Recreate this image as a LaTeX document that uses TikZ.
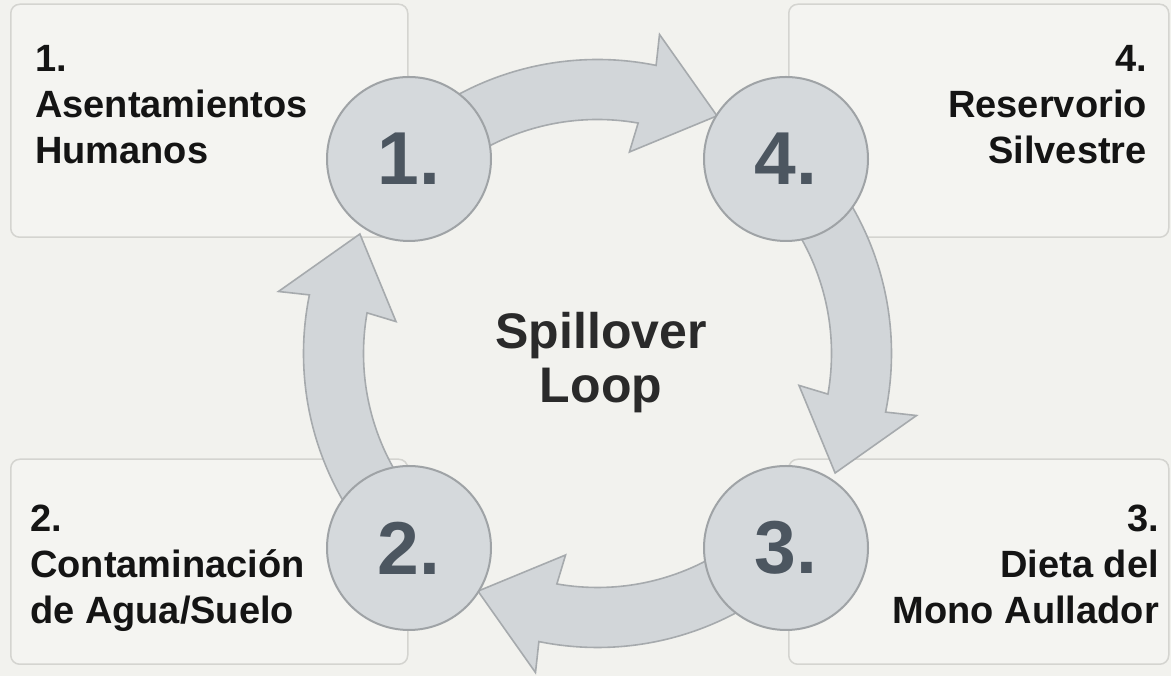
\documentclass[tikz,border=0pt]{standalone}
\usepackage{fontspec}
\setmainfont{Liberation Sans}
\definecolor{bg}{HTML}{F2F2EE}
\definecolor{boxfill}{HTML}{F4F4F1}
\definecolor{boxline}{HTML}{D4D4D0}
\definecolor{arrowfill}{HTML}{D2D6D9}
\definecolor{arrowline}{HTML}{A6AAAD}
\definecolor{circfill}{HTML}{D5D9DC}
\definecolor{circline}{HTML}{9FA3A6}
\definecolor{numcol}{HTML}{4C5660}
\definecolor{txt}{HTML}{141414}
\definecolor{loopcol}{HTML}{2A2A2A}
\begin{document}
\begin{tikzpicture}[x=1pt,y=1pt,
  box/.style={draw=boxline, line width=1.5pt, fill=boxfill, rounded corners=9pt, inner sep=0pt, anchor=south west},
  blockarrow/.style={fill=arrowfill, draw=arrowline, line width=1.6pt, line join=miter},
  numcircle/.style={circle, draw=circline, line width=2pt, fill=circfill, minimum size=164pt, inner sep=0pt, font=\fontsize{75}{75}\selectfont\bfseries, text=numcol},
  boxtext/.style={font=\fontsize{38}{46}\selectfont\bfseries, text=txt, inner sep=0pt},
  looptext/.style={font=\fontsize{50}{54}\selectfont\bfseries, text=loopcol, inner sep=0pt, align=center}
]
\fill[bg] (0,0) rectangle (1171,676);
\useasboundingbox (0,0) rectangle (1171,676);

% boxes
\node[box, minimum width=397pt, minimum height=233pt] (b1) at (10,438) {};
\node[box, minimum width=380pt, minimum height=233pt] (b4) at (788,438) {};
\node[box, minimum width=397pt, minimum height=205pt] (b2) at (10,11) {};
\node[box, minimum width=380pt, minimum height=205pt] (b3) at (788,11) {};

% box texts
\node[boxtext, anchor=north west, align=left] (t1) at (35,631) {1.\\Asentamientos\\Humanos};
\node[boxtext, anchor=north east, align=right] (t4) at (1147,631) {4.\\Reservorio\\Silvestre};
\node[boxtext, anchor=north west, align=left] (t2) at (30,171) {2.\\Contaminación\\de Agua/Suelo};
\node[boxtext, anchor=north east, align=right] (t3) at (1159,171) {3.\\Dieta del\\Mono Aullador};

% block arrows around the loop centre
\coordinate (C) at (597.5,322.5);
\foreach \r in {0,-90,-180,-270} {
  \begin{scope}[shift={(C)}, rotate=\r]
    \path[blockarrow] (125:294pt) arc[start angle=125, end angle=78.5, radius=294pt]
      -- (79:325pt) -- (63.3:266pt) -- (81:204pt) -- (80:234pt)
      arc[start angle=80, end angle=125, radius=234pt] -- cycle;
  \end{scope}
}

% numbered circles
\node[numcircle] (n1) at (409,517) {1.};
\node[numcircle] (n4) at (786,517) {4.};
\node[numcircle] (n2) at (409,128) {2.};
\node[numcircle] (n3) at (786,128) {3.};

% centre label
\node[looptext, anchor=north] (loop) at (601,364) {Spillover\\Loop};
\end{tikzpicture}
\end{document}
